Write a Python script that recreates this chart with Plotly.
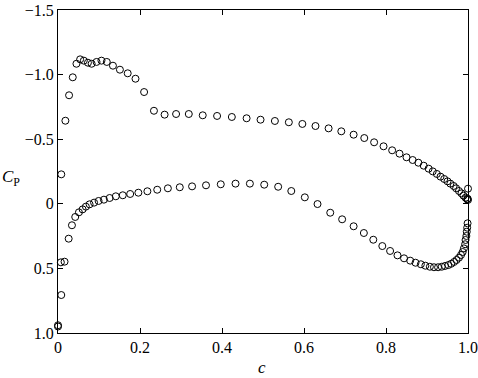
import plotly.graph_objects as go

x_upper = [0.0, 0.008, 0.018, 0.027, 0.036, 0.045, 0.054, 0.063, 0.073, 0.082, 0.094, 0.106,
           0.119, 0.134, 0.151, 0.17, 0.189, 0.21, 0.234, 0.26, 0.288, 0.319, 0.353, 0.388,
           0.424, 0.46, 0.494, 0.529, 0.563, 0.596, 0.628, 0.66, 0.691, 0.721, 0.747, 0.771,
           0.794, 0.815, 0.833, 0.85, 0.865, 0.879, 0.892, 0.904, 0.914, 0.924, 0.933, 0.942,
           0.95, 0.957, 0.965, 0.971, 0.978, 0.984, 0.989, 0.994, 0.998, 0.999, 1.0, 1.0]
cp_upper = [0.94, -0.228, -0.643, -0.84, -0.979, -1.084, -1.118, -1.108, -1.092, -1.084, -1.098, -1.108,
            -1.098, -1.069, -1.038, -1.01, -0.968, -0.865, -0.72, -0.69, -0.695, -0.695, -0.685, -0.68,
            -0.672, -0.662, -0.651, -0.641, -0.631, -0.618, -0.602, -0.584, -0.561, -0.535, -0.509, -0.476,
            -0.445, -0.414, -0.388, -0.36, -0.339, -0.318, -0.295, -0.272, -0.251, -0.231, -0.21, -0.192,
            -0.174, -0.156, -0.138, -0.12, -0.099, -0.081, -0.063, -0.047, -0.035, -0.04, -0.03, -0.117]

x_lower = [0.0, 0.008, 0.007, 0.016, 0.026, 0.034, 0.042, 0.051, 0.06, 0.068, 0.077, 0.088,
           0.099, 0.112, 0.126, 0.141, 0.158, 0.176, 0.196, 0.218, 0.242, 0.268, 0.297, 0.327,
           0.361, 0.397, 0.433, 0.468, 0.503, 0.537, 0.569, 0.602, 0.633, 0.664, 0.693, 0.721,
           0.746, 0.769, 0.791, 0.81, 0.828, 0.844, 0.859, 0.872, 0.885, 0.896, 0.907, 0.917,
           0.927, 0.936, 0.944, 0.952, 0.959, 0.966, 0.972, 0.978, 0.983, 0.987, 0.99, 0.993,
           0.994, 0.996, 0.997, 0.998, 0.999]
cp_lower = [0.95, 0.706, 0.453, 0.448, 0.27, 0.166, 0.102, 0.066, 0.043, 0.022, 0.004, -0.009,
            -0.022, -0.032, -0.045, -0.058, -0.066, -0.076, -0.086, -0.097, -0.109, -0.12, -0.128, -0.135,
            -0.143, -0.151, -0.156, -0.156, -0.148, -0.132, -0.099, -0.05, 0.002, 0.069, 0.12, 0.174,
            0.226, 0.278, 0.327, 0.365, 0.399, 0.422, 0.44, 0.456, 0.468, 0.479, 0.487, 0.491,
            0.491, 0.487, 0.481, 0.474, 0.464, 0.45, 0.435, 0.417, 0.396, 0.373, 0.345, 0.313,
            0.28, 0.249, 0.216, 0.185, 0.151]

x_ticks = [0, 0.2, 0.4, 0.6, 0.8, 1.0]
x_ticktext = ["0", "0.2", "0.4", "0.6", "0.8", "1.0"]
y_ticks = [-1.5, -1.0, -0.5, 0, 0.5, 1.0]
y_ticktext = ["\u22121.5", "\u22121.0", "\u22120.5", "0", "0.5", "1.0"]

FONT = "Liberation Serif"
marker = dict(symbol="circle-open", size=7, color="black", line=dict(width=1, color="black"))

fig = go.Figure()
fig.add_trace(go.Scatter(x=x_upper, y=cp_upper, mode="markers", marker=marker, cliponaxis=False))
fig.add_trace(go.Scatter(x=x_lower, y=cp_lower, mode="markers", marker=marker, cliponaxis=False))

axis_common = dict(showline=True, linecolor="black", linewidth=1, mirror="ticks",
                   ticks="inside", ticklen=5, tickcolor="black", tickwidth=1,
                   showgrid=False, zeroline=False, automargin=False,
                   tickfont=dict(family=FONT, size=16, color="black"))

fig.update_layout(
    width=478, height=378,
    margin=dict(l=58, r=10, t=10, b=45),
    paper_bgcolor="white", plot_bgcolor="white",
    showlegend=False,
    font=dict(family=FONT, color="black"),
    xaxis=dict(range=[0, 1.0], tickvals=x_ticks, ticktext=x_ticktext, **axis_common),
    yaxis=dict(range=[1.0, -1.5], tickvals=y_ticks, ticktext=y_ticktext, **axis_common),
    annotations=[
        dict(text="<i>c</i>", xref="paper", yref="paper", x=0.4975, y=-0.108,
             xanchor="center", yanchor="middle", showarrow=False,
             font=dict(family=FONT, size=17, color="black")),
        dict(text="<i>C</i><sub>P</sub>", xref="paper", yref="paper", x=-0.142, y=0.48,
             xanchor="left", yanchor="middle", showarrow=False,
             font=dict(family=FONT, size=17, color="black")),
    ],
)

fig.write_html("out.html")
